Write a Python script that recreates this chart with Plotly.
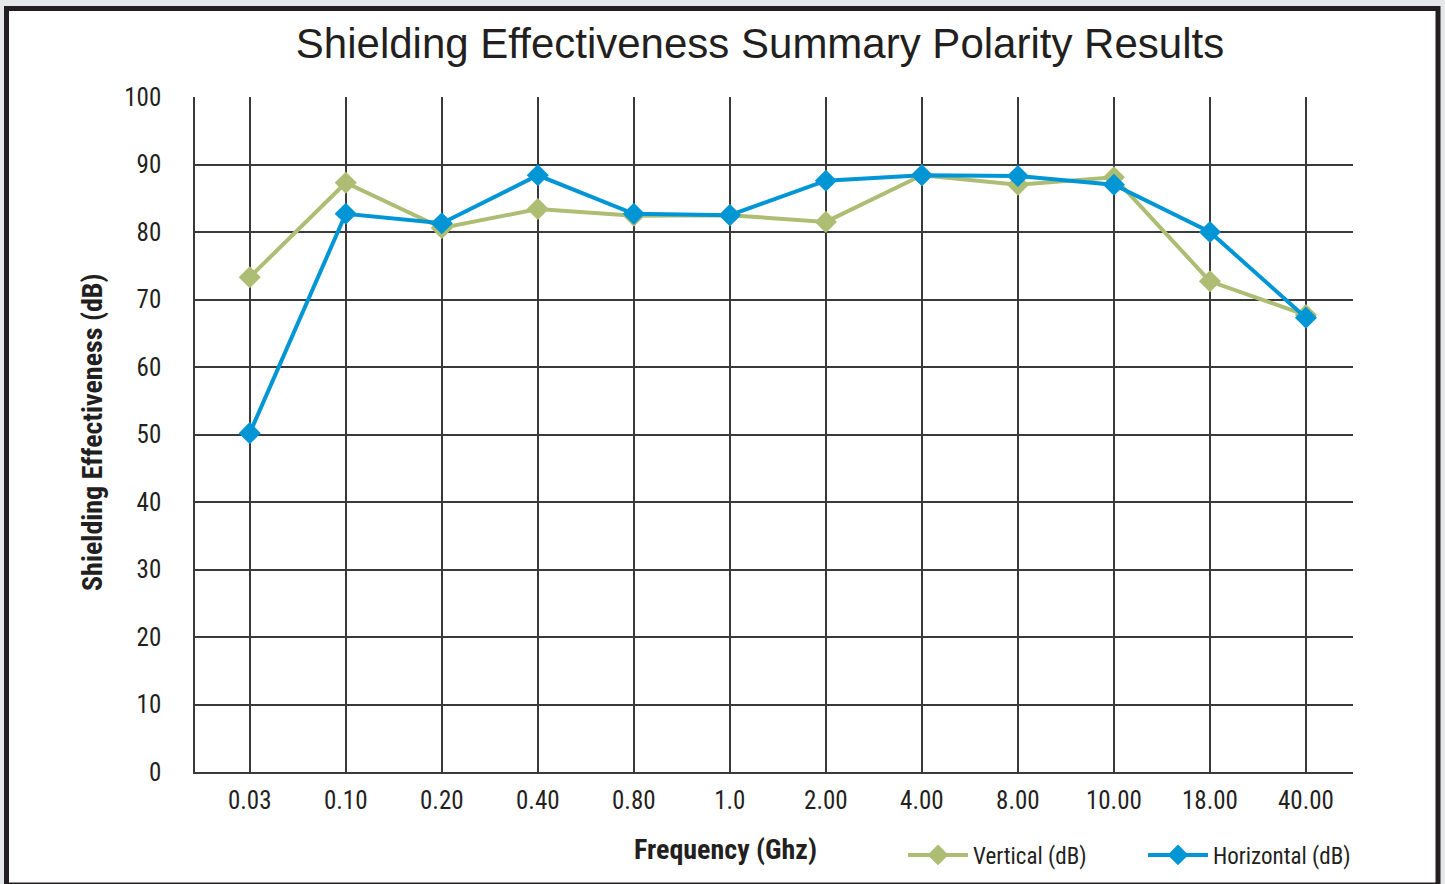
import plotly.graph_objects as go

categories = ["0.03", "0.10", "0.20", "0.40", "0.80", "1.0", "2.00", "4.00", "8.00", "10.00", "18.00", "40.00"]
vertical_db = [73.3, 87.3, 80.6, 83.4, 82.4, 82.5, 81.5, 88.4, 87.0, 88.1, 72.7, 67.7]
horizontal_db = [50.2, 82.7, 81.3, 88.4, 82.7, 82.5, 87.6, 88.4, 88.3, 87.0, 80.0, 67.3]
y_ticks = list(range(0, 101, 10))

W, H = 1445, 884
L, R, T, B = 195, 92, 97, 112
PW, PH = W - L - R, H - T - B

def px(x):
    return (x - L) / PW

def py(y):
    return (H - B - y) / PH

NARROW = "Liberation Sans Narrow, Arial Narrow, Roboto Condensed, DejaVu Sans Condensed, sans-serif"
GREEN = "#adbd74"
BLUE = "#0096d6"
GRID = "#3a3a3a"

fig = go.Figure()
fig.add_trace(go.Scatter(
    x=categories, y=vertical_db, name="Vertical (dB)", mode="lines+markers",
    line=dict(color=GREEN, width=4), marker=dict(symbol="diamond", size=17, color=GREEN),
))
fig.add_trace(go.Scatter(
    x=categories, y=horizontal_db, name="Horizontal (dB)", mode="lines+markers",
    line=dict(color=BLUE, width=4), marker=dict(symbol="diamond", size=17, color=BLUE),
))

fig.update_layout(
    width=W, height=H,
    margin=dict(l=L, r=R, t=T, b=B, autoexpand=False),
    paper_bgcolor="#e6e7e9",
    plot_bgcolor="rgba(0,0,0,0)",
    font=dict(family=NARROW, size=24, color="#231f20"),
    title=dict(
        text="Shielding Effectiveness Summary Polarity Results",
        x=760 / W, xanchor="center", xref="container",
        y=1 - 43 / H, yanchor="middle", yref="container",
        font=dict(family="Liberation Sans, Arial, sans-serif", size=42, color="#231f20"),
    ),
    showlegend=True,
    legend=dict(
        orientation="h", x=px(903), xanchor="left", y=py(855), yanchor="middle",
        font=dict(family=NARROW, size=23, color="#231f20"),
        bgcolor="rgba(0,0,0,0)", itemwidth=60, entrywidthmode="pixels", entrywidth=165,
        tracegroupgap=0,
    ),
    shapes=[dict(
        type="rect", xref="paper", yref="paper",
        x0=px(6.5), x1=px(1438), y0=py(885), y1=py(8.5),
        fillcolor="white", line=dict(color="#231f20", width=5), layer="below",
    )],
    annotations=[
        dict(text="<b>Shielding Effectiveness (dB)</b>", xref="paper", yref="paper",
             x=px(92), y=py(432), textangle=-90, showarrow=False,
             xanchor="center", yanchor="middle",
             font=dict(family=NARROW, size=28, color="#231f20")),
        dict(text="<b>Frequency (Ghz)</b>", xref="paper", yref="paper",
             x=px(725), y=py(849), showarrow=False,
             xanchor="center", yanchor="middle",
             font=dict(family=NARROW, size=28, color="#231f20")),
    ],
)

fig.update_xaxes(
    type="category", range=[-0.57, 11.49],
    showgrid=True, gridcolor=GRID, gridwidth=1.5,
    showline=True, linecolor=GRID, linewidth=1.5,
    ticks="", ticklabelstandoff=5,
    tickfont=dict(family=NARROW, size=25, color="#231f20"),
    zeroline=False,
)
fig.update_yaxes(
    range=[0, 100], tickvals=y_ticks,
    showgrid=True, gridcolor=GRID, gridwidth=1.5,
    showline=True, linecolor=GRID, linewidth=1.5,
    ticks="", ticklabelstandoff=27,
    tickfont=dict(family=NARROW, size=25, color="#231f20"),
    zeroline=False,
)

fig.write_html("out.html", config={"displayModeBar": False},
               post_script="document.body.style.margin='0';")
